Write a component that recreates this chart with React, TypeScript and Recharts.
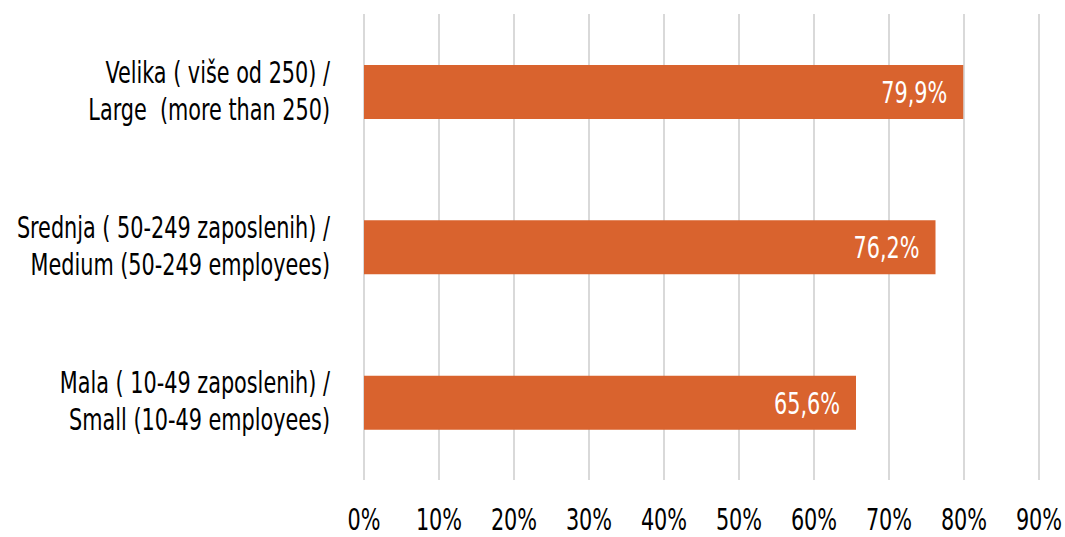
import { Bar, BarChart, CartesianGrid, XAxis, YAxis, LabelList } from "recharts";

const categories = [
  "Velika ( više od 250) / Large  (more than 250)",
  "Srednja ( 50-249 zaposlenih) / Medium (50-249 employees)",
  "Mala ( 10-49 zaposlenih) / Small (10-49 employees)",
];
const shares = [0.799, 0.762, 0.656];
const xTicks = [0, 0.1, 0.2, 0.3, 0.4, 0.5, 0.6, 0.7, 0.8, 0.9];

const data = categories.map((name, i) => ({ name, value: shares[i] }));

const FONT = "'DejaVu Sans Condensed', sans-serif";
const SQUEEZE = 0.77; // narrow the font horizontally to look like a condensed face

const pct = (v: number) => `${Math.round(v * 100)}%`;
const pctLabel = (v: number) => `${(v * 100).toFixed(1).replace(".", ",")}%`;

function CategoryTick(props: any) {
  const { x, y, payload } = props;
  const idx = payload.value.indexOf("/ ");
  const line1 = payload.value.slice(0, idx + 1);
  const line2 = payload.value.slice(idx + 2);
  return (
    <g transform={`translate(${x},${y}) scale(${SQUEEZE},1)`}>
      <text textAnchor="end" fontSize={30} fontFamily={FONT} fill="#000" style={{ whiteSpace: "pre" }}>
        <tspan x={0} dy={-9}>{line1}</tspan>
        <tspan x={0} dy={37}>{line2}</tspan>
      </text>
    </g>
  );
}

function PctTick(props: any) {
  const { x, y, payload } = props;
  return (
    <g transform={`translate(${x},${y}) scale(${SQUEEZE},1)`}>
      <text textAnchor="middle" fontSize={30} fontFamily={FONT} fill="#000">
        {pct(payload.value)}
      </text>
    </g>
  );
}

function BarValue(props: any) {
  const { x, y, width, height, value } = props;
  const tx = Number(x) + Number(width) - 16;
  const ty = Number(y) + Number(height) / 2 + 11;
  return (
    <g transform={`translate(${tx},${ty}) scale(${SQUEEZE},1)`}>
      <text textAnchor="end" fontSize={30} fontFamily={FONT} fill="#fff">
        {pctLabel(Number(value))}
      </text>
    </g>
  );
}

export default function App() {
  return (
    <div style={{ position: "absolute", left: 0, top: 0, background: "#fff" }}>
      <BarChart
        width={1065}
        height={537}
        data={data}
        layout="vertical"
        margin={{ top: 14, right: 26, bottom: 0, left: 0 }}
      >
        <CartesianGrid horizontal={false} stroke="#d9d9d9" strokeWidth={2} />
        <XAxis
          type="number"
          domain={[0, 0.9]}
          ticks={xTicks}
          axisLine={false}
          tickLine={false}
          tickSize={0}
          tickMargin={50}
          height={57}
          interval={0}
          tick={<PctTick />}
        />
        <YAxis
          type="category"
          dataKey="name"
          width={364}
          axisLine={false}
          tickLine={false}
          tickSize={0}
          tickMargin={34}
          interval={0}
          tick={<CategoryTick />}
        />
        <Bar dataKey="value" fill="#d9632e" barSize={54} isAnimationActive={false}>
          <LabelList dataKey="value" content={<BarValue />} />
        </Bar>
      </BarChart>
    </div>
  );
}
